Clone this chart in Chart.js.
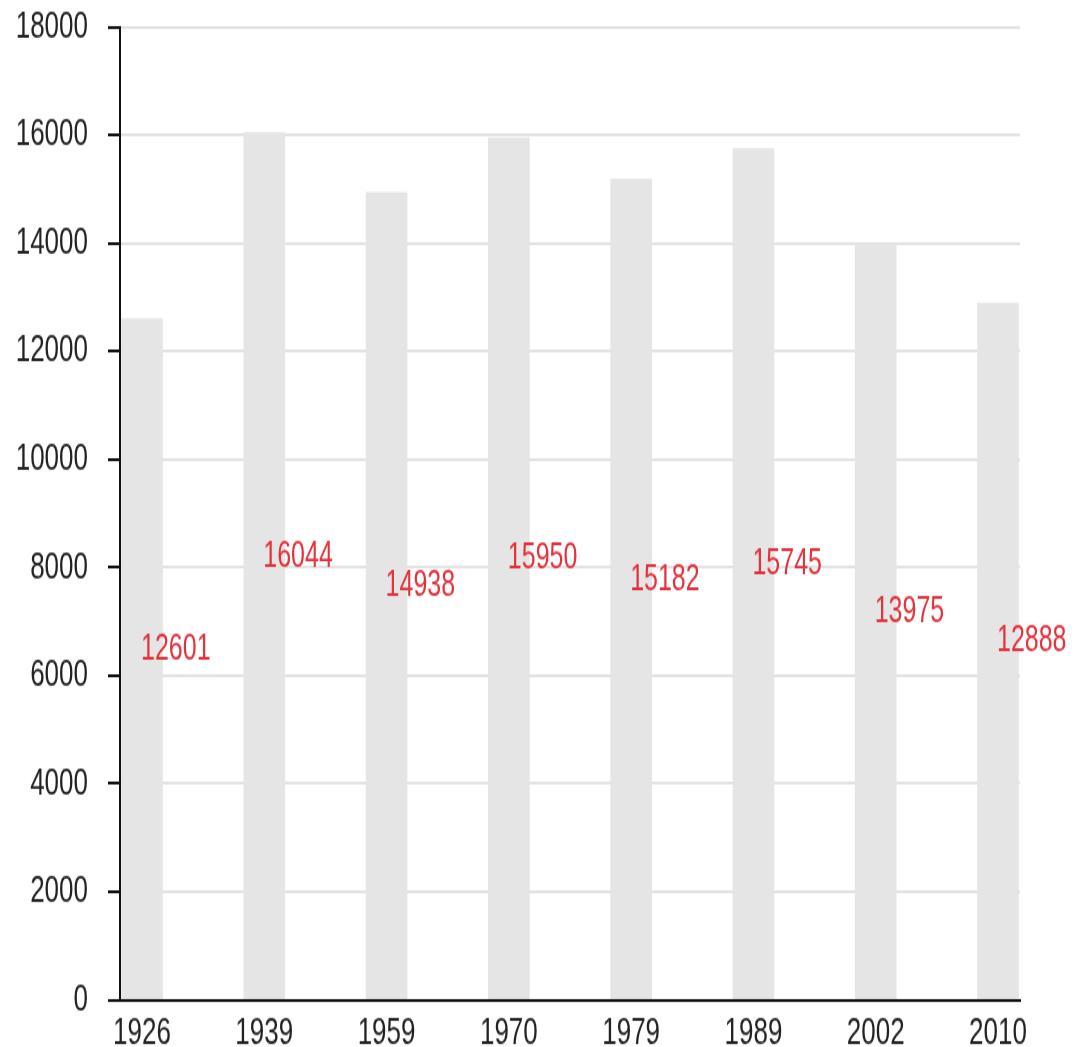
<!DOCTYPE html>
<html>
<head>
<meta charset="utf-8">
<script src="https://cdn.jsdelivr.net/npm/chart.js@4"></script>
<style>
    body { margin: 0; background: #fff; overflow: hidden; }
    #page { width: 1078px; height: 1047px; }
    /* the reference looks stretched vertically, so the canvas is drawn shorter and stretched back */
    #wrap { width: 1078px; height: 722px; transform: scale(1, 1.45); transform-origin: 0 0; }
    #chart { display: block; }
</style>
</head>
<body>
<div id="page"><div id="wrap"><canvas id="chart" width="1078" height="722"></canvas></div></div>
<script>
// Dữ liệu của biểu đồ
const years = ['1926', '1939', '1959', '1970', '1979', '1989', '2002', '2010'];
const population = [12601, 16044, 14938, 15950, 15182, 15745, 13975, 12888];
const yTicks = [0, 2000, 4000, 6000, 8000, 10000, 12000, 14000, 16000, 18000];

const FONT = "'Liberation Sans', Arial, sans-serif";

// Plugin vẽ nhãn giá trị màu đỏ ở giữa chiều cao cột
const valueLabels = {
    id: 'valueLabels',
    afterDatasetsDraw(chart) {
        const ctx = chart.ctx;
        const x = chart.scales.x;
        const y = chart.scales.y;
        ctx.save();
        ctx.font = '25px ' + FONT;
        ctx.fillStyle = '#e3323b';
        ctx.textAlign = 'left';
        ctx.textBaseline = 'alphabetic';
        population.forEach((v, i) => {
            ctx.fillText(String(v), x.getPixelForValue(i) - 1, y.getPixelForValue(v / 2));
        });
        ctx.restore();
    }
};

new Chart(document.getElementById('chart').getContext('2d'), {
    type: 'bar',
    data: {
        datasets: [{
            data: population.map((v, i) => ({ x: i, y: v })),
            backgroundColor: '#e5e5e5',
            borderWidth: 0,
            barThickness: 41
        }]
    },
    options: {
        responsive: false,
        animation: false,
        devicePixelRatio: 1,
        layout: { padding: { top: 18.6, right: 58, left: 0, bottom: 0 } },
        plugins: {
            legend: { display: false },
            tooltip: { enabled: false }
        },
        scales: {
            x: {
                type: 'linear',
                offset: false,
                min: -0.18,
                max: 7.18,
                afterBuildTicks: scale => {
                    scale.ticks = years.map((_, i) => ({ value: i }));
                },
                afterFit: scale => {
                    scale.height = 32.4;
                    scale.paddingLeft = 0;
                    scale.paddingRight = 0;
                },
                grid: { display: false, offset: false },
                border: { display: true, color: '#111', width: 2 },
                ticks: {
                    callback: v => years[v],
                    color: '#222',
                    padding: 0,
                    maxRotation: 0,
                    autoSkip: false,
                    font: { family: FONT, size: 26 }
                }
            },
            y: {
                min: 0,
                max: 18000,
                afterBuildTicks: scale => {
                    scale.ticks = yTicks.map(v => ({ value: v }));
                },
                afterFit: scale => {
                    scale.width = 120;
                    scale.paddingTop = 0;
                    scale.paddingBottom = 0;
                },
                grid: {
                    color: '#e3e3e3',
                    lineWidth: 2,
                    tickColor: '#111',
                    tickLength: 12,
                    tickWidth: 2
                },
                border: { display: true, color: '#111', width: 2 },
                ticks: {
                    callback: v => String(v),
                    color: '#222',
                    padding: 20,
                    font: { family: FONT, size: 26 }
                }
            }
        }
    },
    plugins: [valueLabels]
});
</script>
</body>
</html>
